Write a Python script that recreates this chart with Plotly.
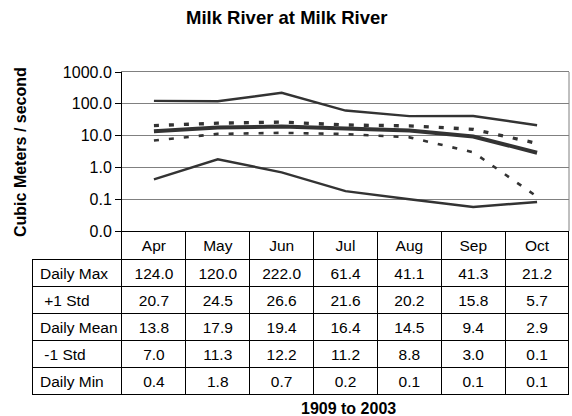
import plotly.graph_objects as go

months = ["Apr", "May", "Jun", "Jul", "Aug", "Sep", "Oct"]
row_labels = ["Daily\u00a0Max", "\u00a0+1\u00a0Std", "Daily\u00a0Mean", "\u00a0-1\u00a0Std", "Daily\u00a0Min"]
daily_max = [124.0, 120.0, 222.0, 61.4, 41.1, 41.3, 21.2]
plus_1_std = [20.7, 24.5, 26.6, 21.6, 20.2, 15.8, 5.7]
daily_mean = [13.8, 17.9, 19.4, 16.4, 14.5, 9.4, 2.9]
minus_1_std = [7.0, 11.3, 12.2, 11.2, 8.8, 3.0, 0.12]
daily_min = [0.42, 1.8, 0.7, 0.18, 0.1, 0.057, 0.082]
y_tickvals = [0.01, 0.1, 1, 10, 100, 1000]
y_ticktext = ["0.0", "0.1", "1.0", "10.0", "100.0", "1000.0"]

W, H = 572, 416
FONT = "Arial, Liberation Sans, sans-serif"
LC = "#333333"
CLEAR = "rgba(0,0,0,0)"

fig = go.Figure()

series = [
    (daily_max, dict(color=LC, width=2.4)),
    (plus_1_std, dict(color=LC, width=3.3, dash="5px,10px")),
    (minus_1_std, dict(color=LC, width=2.6, dash="5px,10px")),
    (daily_min, dict(color=LC, width=2.4)),
    (daily_mean, dict(color=LC, width=4)),
]
for vals, line in series:
    fig.add_trace(go.Scatter(x=months, y=vals, mode="lines", line=line,
                             showlegend=False, hoverinfo="skip"))

cols = [row_labels]
for i in range(len(months)):
    cols.append([f"{s[i]:.1f}" for s in (daily_max, plus_1_std, daily_mean, minus_1_std, daily_min)])

fig.add_trace(go.Table(
    domain=dict(x=[32 / W, 569 / W], y=[1 - 397 / H, 1 - 231 / H]),
    columnwidth=[90] + [63.86] * 7,
    header=dict(values=[""] + months, height=28,
                line=dict(color=[CLEAR] + ["black"] * 7, width=1),
                fill=dict(color=[CLEAR] + ["white"] * 7),
                font=dict(family=FONT, size=15.5, color="black"),
                align="center"),
    cells=dict(values=cols, height=27,
               line=dict(color="black", width=1),
               fill=dict(color="white"),
               font=dict(family=FONT, size=15.5, color="black"),
               align=["left"] + ["center"] * 7),
))

fig.update_layout(
    template="none",
    width=W, height=H,
    margin=dict(l=0, r=0, t=0, b=0),
    paper_bgcolor="white", plot_bgcolor="white",
    font=dict(family=FONT, size=16, color="black"),
    xaxis=dict(domain=[122 / W, 569 / W], type="category", range=[-0.5, 6.5],
               showticklabels=False, ticks="", showgrid=False, zeroline=False,
               showline=True, linecolor="#808080", mirror=True),
    yaxis=dict(domain=[1 - 231 / H, 1 - 72 / H], type="log", range=[-2, 3],
               tickvals=y_tickvals, ticktext=y_ticktext,
               ticks="outside", ticklen=6, tickcolor="black",
               showgrid=True, gridcolor="#808080", gridwidth=1,
               showline=True, linecolor="black", linewidth=1,
               tickfont=dict(family=FONT, size=16, color="black"), zeroline=False),
    shapes=[dict(type="line", xref="x domain", yref="y domain", x0=1, x1=1, y0=0, y1=1,
                 line=dict(color="#808080", width=1))],
    annotations=[
        dict(text="<b>Milk River at Milk River</b>", xref="paper", yref="paper",
             x=287 / W, y=1 - 18 / H, xanchor="center", yanchor="middle",
             showarrow=False, font=dict(size=18.5, family=FONT)),
        dict(text="<b>Cubic Meters / second</b>", xref="paper", yref="paper",
             x=20 / W, y=1 - 152 / H, xanchor="center", yanchor="middle",
             showarrow=False, textangle=-90, font=dict(size=16, family=FONT)),
        dict(text="<b>1909 to 2003</b>", xref="paper", yref="paper",
             x=348 / W, y=1 - 408 / H, xanchor="center", yanchor="middle",
             showarrow=False, font=dict(size=16, family=FONT)),
    ],
)

fig.write_html("out.html", config={"displayModeBar": False},
               post_script="document.body.style.margin='0px';")
